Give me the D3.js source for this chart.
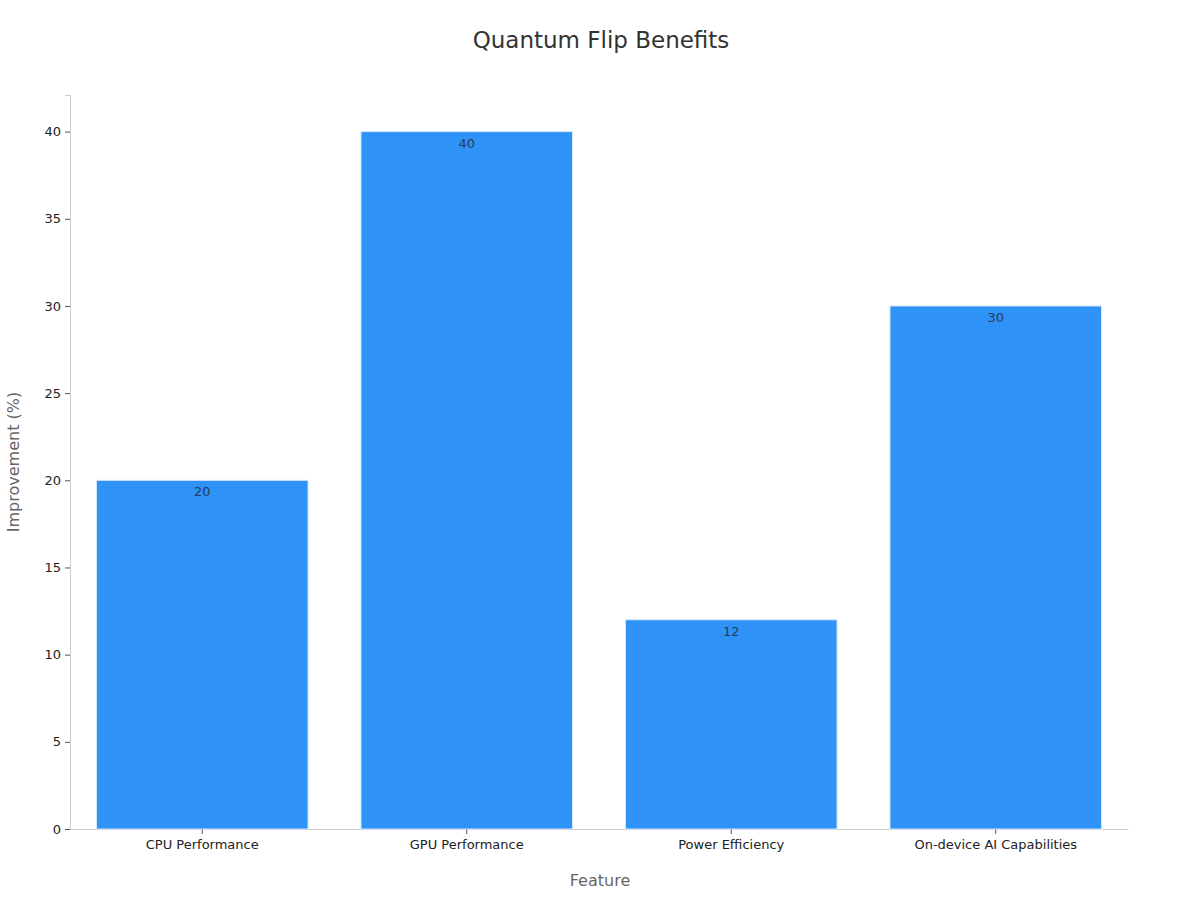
<!DOCTYPE html>
<html>
<head>
<meta charset="utf-8">
<script src="https://cdn.jsdelivr.net/npm/d3@7"></script>
<style>
  body { margin: 0; background: #fff; }
  text { font-family: "DejaVu Sans", sans-serif; }
</style>
</head>
<body>
<svg id="chart" width="1200" height="900"></svg>
<script>
const features = ["CPU Performance", "GPU Performance", "Power Efficiency", "On-device AI Capabilities"]
const improvement = [20, 40, 12, 30]
const yTicks = [0, 5, 10, 15, 20, 25, 30, 35, 40]

const svg = d3.select("#chart")
const mLeft = 70, mRight = 1128, mTop = 95, mBottom = 829

const x = d3.scaleBand().domain(features).range([mLeft, mRight]).paddingInner(0.2).paddingOuter(0.1)
const y = d3.scaleLinear().domain([0, 42.1]).range([mBottom, mTop])

// axes
const yAxis = svg.append("g").attr("transform", `translate(${mLeft},0)`)
    .call(d3.axisLeft(y).tickValues(yTicks).tickSize(5).tickPadding(4))
yAxis.select(".domain").attr("stroke", "#ccc")
yAxis.selectAll(".tick line").attr("stroke", "#555")
yAxis.selectAll(".tick text").attr("font-size", 13).attr("fill", "#222").style("font-family", "DejaVu Sans")

const xAxis = svg.append("g").attr("transform", `translate(0,${mBottom})`)
    .call(d3.axisBottom(x).tickSize(5).tickPadding(6).tickSizeOuter(0))
xAxis.select(".domain").attr("stroke", "#ccc")
xAxis.selectAll(".tick line").attr("stroke", "#555")
xAxis.selectAll(".tick text").attr("font-size", 13).attr("fill", "#222").style("font-family", "DejaVu Sans")

// bars
svg.selectAll("rect.bar").data(improvement).enter().append("rect")
    .attr("class", "bar")
    .attr("x", (d, i) => x(features[i]))
    .attr("width", x.bandwidth())
    .attr("y", d => y(d))
    .attr("height", d => y(0) - y(d))
    .attr("fill", "#2f92f7")
    .attr("stroke", "#d6e9fc")
    .attr("stroke-width", 1)

svg.selectAll("text.val").data(improvement).enter().append("text")
    .attr("class", "val")
    .attr("x", (d, i) => x(features[i]) + x.bandwidth() / 2)
    .attr("y", d => y(d) + 16)
    .attr("text-anchor", "middle")
    .attr("font-size", 13)
    .attr("fill", "#2b3a55")
    .text(d => d)

// titles
svg.append("text").attr("x", 601).attr("y", 48).attr("text-anchor", "middle")
    .attr("font-size", 23).attr("fill", "#333").text("Quantum Flip Benefits")
svg.append("text").attr("x", 600).attr("y", 886).attr("text-anchor", "middle")
    .attr("font-size", 16).attr("fill", "#666").text("Feature")
svg.append("text").attr("transform", "translate(19,462) rotate(-90)").attr("text-anchor", "middle")
    .attr("font-size", 16).attr("fill", "#666").text("Improvement (%)")
</script>
</body>
</html>
